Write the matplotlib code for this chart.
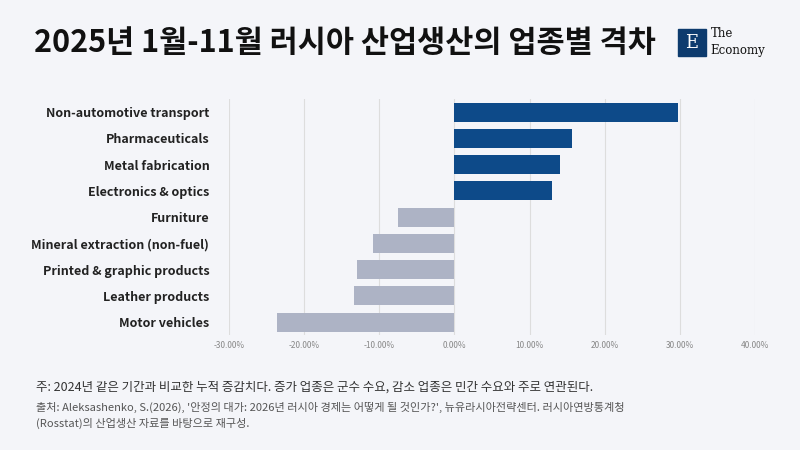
import numpy as np
import matplotlib.pyplot as plt

plt.rcParams['font.family'] = ['Noto Sans CJK KR', 'DejaVu Sans']

# 업종별 산업생산 증감률 (%)
categories = ['Non-automotive transport', 'Pharmaceuticals', 'Metal fabrication',
              'Electronics & optics', 'Furniture', 'Mineral extraction (non-fuel)',
              'Printed & graphic products', 'Leather products', 'Motor vehicles']
values = [29.7, 15.7, 14.0, 13.0, -7.5, -10.8, -12.9, -13.4, -23.6]
xticks = [-30, -20, -10, 0, 10, 20, 30, 40]

bg = '#f4f5f9'
fig = plt.figure(figsize=(8, 4.5), dpi=100, facecolor=bg)
ax = fig.add_axes([0.286, 0.255, 0.658, 0.525], facecolor=bg)

y = np.arange(len(categories))
colors = ['#0d4a89' if v > 0 else '#adb3c5' for v in values]
ax.barh(y, values, height=0.72, color=colors, zorder=3)
ax.set_yticks(y)
ax.set_yticklabels(categories, fontsize=9, fontweight='bold', color='#222222')
ax.invert_yaxis()
ax.set_xlim(-30, 40)
ax.set_ylim(len(categories) - 0.5, -0.5)
ax.set_xticks(xticks)
ax.set_xticklabels([f'{t:.2f}%' for t in xticks], fontsize=6, color='#888888')
ax.grid(axis='x', color='#dddddd', linewidth=0.8, zorder=0)
ax.tick_params(length=0, pad=4)
ax.tick_params(axis='y', pad=14)
for s in ax.spines.values():
    s.set_visible(False)

fig.text(0.043, 0.905, '2025년 1월-11월 러시아 산업생산의 업종별 격차', fontsize=22,
         fontweight='bold', color='#111111', va='center')

# 로고
fig.patches.append(plt.Rectangle((0.848, 0.875), 0.034, 0.06, transform=fig.transFigure,
                                 color='#0d3b6e'))
fig.text(0.865, 0.905, 'E', fontsize=13, color='white', ha='center', va='center',
         family='DejaVu Serif')
fig.text(0.888, 0.925, 'The', fontsize=8.5, color='#111111', va='center', family='DejaVu Serif')
fig.text(0.888, 0.887, 'Economy', fontsize=8.5, color='#111111', va='center', family='DejaVu Serif')

fig.text(0.045, 0.14, '주: 2024년 같은 기간과 비교한 누적 증감치다. 증가 업종은 군수 수요, 감소 업종은 민간 수요와 주로 연관된다.',
         fontsize=9, color='#333333', va='center', fontweight='medium')
fig.text(0.045, 0.095, "출처: Aleksashenko, S.(2026), '안정의 대가: 2026년 러시아 경제는 어떻게 될 것인가?', 뉴유라시아전략센터. 러시아연방통계청",
         fontsize=8, color='#555555', va='center')
fig.text(0.045, 0.058, '(Rosstat)의 산업생산 자료를 바탕으로 재구성.',
         fontsize=8, color='#555555', va='center')

fig.savefig('out.png', dpi=100, facecolor=bg)
